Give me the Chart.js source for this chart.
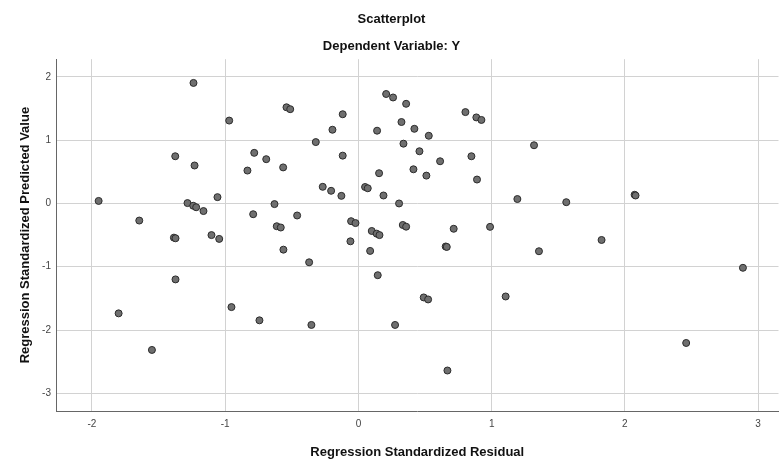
<!DOCTYPE html>
<html>
<head>
<meta charset="utf-8">
<script src="https://cdn.jsdelivr.net/npm/chart.js@4/dist/chart.umd.min.js"></script>
<style>
  html, body { margin: 0; padding: 0; background: #fff; }
  #wrap { width: 783px; height: 460px; }
</style>
</head>
<body>
<div id="wrap"><canvas id="grafico"></canvas></div>
<script>
// ─── Data ─────────────────────────────────────────────────────────────
const residuals = [
  -1.95, -1.645, -1.238, -1.375, -1.23, -1.283, -1.24, -1.218, -1.163, -1.058,
  -0.97, -0.833, -0.782, -0.692, -0.565, -0.54, -0.512, -0.79, -0.63, -0.613,
  -0.583, -0.46, -0.118, -0.195, -0.32, -0.118, -0.268, -0.205, -0.128, -0.055,
  -0.022, 0.05, 0.07, 0.208, 0.26, 0.358, 0.14, 0.323, 0.42, 0.528,
  0.338, 0.458, 0.613, 0.155, 0.413, 0.51, 0.188, 0.305, 0.803, 0.885,
  0.923, 0.848, 0.89, 1.318, 1.193, 0.333, 0.358, 0.715, 0.988, 1.56,
  2.073, 2.08, -1.385, -1.373, -1.103, -1.045, -0.563, -1.373, -1.80, -1.55,
  -0.953, -0.743, -0.37, -0.06, 0.10, 0.137, 0.158, 0.088, 0.145, 0.655,
  0.663, 0.49, 0.523, 1.105, 1.355, -0.353, 0.275, 0.668, 1.825, 2.886,
  2.46
];
const predicted = [
  0.04, -0.27, 1.905, 0.746, 0.60, 0.006, -0.036, -0.06, -0.12, 0.10,
  1.31, 0.52, 0.80, 0.70, 0.57, 1.52, 1.49, -0.17, -0.01, -0.36,
  -0.38, -0.19, 1.41, 1.165, 0.97, 0.756, 0.263, 0.20, 0.12, -0.28,
  -0.31, 0.26, 0.24, 1.73, 1.675, 1.575, 1.15, 1.287, 1.18, 1.07,
  0.945, 0.825, 0.667, 0.478, 0.54, 0.44, 0.126, 0.0, 1.444, 1.36,
  1.32, 0.746, 0.378, 0.92, 0.07, -0.34, -0.367, -0.40, -0.37, 0.02,
  0.137, 0.126, -0.54, -0.55, -0.50, -0.56, -0.73, -1.20, -1.737, -2.315,
  -1.638, -1.847, -0.93, -0.598, -0.435, -0.477, -0.50, -0.75, -1.134, -0.68,
  -0.687, -1.485, -1.517, -1.47, -0.755, -1.92, -1.92, -2.64, -0.577, -1.017,
  -2.205
];
const xTicks = [-2, -1, 0, 1, 2, 3];
const yTicks = [-3, -2, -1, 0, 1, 2];

// ─── Chart ────────────────────────────────────────────────────────────
const pontos = residuals.map((x, i) => ({ x, y: predicted[i] }));
const fonte = 'Arial, "Liberation Sans", sans-serif';

new Chart(document.getElementById('grafico'), {
  type: 'scatter',
  data: {
    datasets: [{
      data: pontos,
      pointRadius: 3.5,
      pointHoverRadius: 3.5,
      backgroundColor: '#6f6f6f',
      borderColor: '#2b2b2b',
      borderWidth: 1
    }]
  },
  options: {
    responsive: true,
    maintainAspectRatio: false,
    animation: false,
    layout: { padding: 0 },
    plugins: {
      legend: { display: false },
      tooltip: { enabled: false },
      title: {
        display: true, text: 'Scatterplot', color: '#111',
        font: { family: fonte, size: 13, weight: 'bold' },
        padding: { top: 12, bottom: 11 }
      },
      subtitle: {
        display: true, text: 'Dependent Variable: Y', color: '#111',
        font: { family: fonte, size: 13, weight: 'bold' },
        padding: { top: 0, bottom: 5 }
      }
    },
    scales: {
      x: {
        type: 'linear', min: -2.27, max: 3.153,
        afterBuildTicks: s => { s.ticks = xTicks.map(v => ({ value: v })); },
        afterFit: s => { s.height = 49; },
        grid: { color: '#d2d2d2', drawTicks: false },
        border: { color: '#666' },
        ticks: { color: '#444', font: { family: fonte, size: 10 }, padding: 7 },
        title: {
          display: true, text: 'Regression Standardized Residual', color: '#111',
          font: { family: fonte, size: 13, weight: 'bold' }, padding: { top: 12, bottom: 0 }
        }
      },
      y: {
        type: 'linear', min: -3.28, max: 2.28,
        afterBuildTicks: s => { s.ticks = yTicks.map(v => ({ value: v })); },
        afterFit: s => { s.width = 56; },
        grid: { color: '#d2d2d2', drawTicks: false },
        border: { color: '#666' },
        ticks: { color: '#444', font: { family: fonte, size: 10 }, padding: 5 },
        title: {
          display: true, text: 'Regression Standardized Predicted Value', color: '#111',
          font: { family: fonte, size: 13, weight: 'bold' }, padding: { top: 18, bottom: 2 }
        }
      }
    }
  }
});
</script>
</body>
</html>
